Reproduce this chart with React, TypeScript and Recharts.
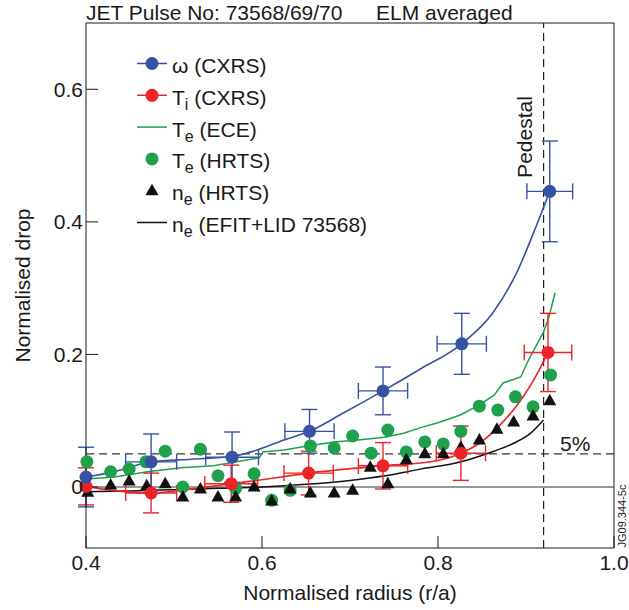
import React from "react";
import {
  ComposedChart,
  ErrorBar,
  Line,
  ReferenceLine,
  Scatter,
  XAxis,
  YAxis
} from "recharts";

const FONT = '"Liberation Sans", Arial, Helvetica, sans-serif';
const BLUE = "#3752a3";
const RED = "#ec2327";
const GREEN = "#1fa04b";
const INK = "#1a1a1a";

const xTicks = [0.4, 0.6, 0.8, 1.0];
const yTicks = [0, 0.2, 0.4, 0.6];

// omega (CXRS) points with error bars
const omegaR = [0.4, 0.474, 0.566, 0.654, 0.7375, 0.827, 0.927];
const omegaDrop = [0.015, 0.038, 0.045, 0.084, 0.145, 0.216, 0.446];
const omegaErrR = [0, 0.029, 0.03, 0.028, 0.028, 0.028, 0.026];
const omegaErrDrop = [0.045, 0.042, 0.038, 0.033, 0.036, 0.046, 0.076];

// omega fit curve
const omegaFitR = [0.4, 0.432, 0.474, 0.52, 0.566, 0.5875, 0.625, 0.654, 0.693, 0.7375, 0.78, 0.827, 0.862, 0.89, 0.912, 0.927];
const omegaFitDrop = [0.015, 0.023, 0.038, 0.042, 0.046, 0.053, 0.071, 0.084, 0.112, 0.145, 0.178, 0.216, 0.262, 0.325, 0.395, 0.446];

// Ti (CXRS) points with error bars
const tiR = [0.4, 0.474, 0.565, 0.653, 0.7375, 0.826, 0.925];
const tiDrop = [0.001, -0.009, 0.005, 0.021, 0.032, 0.051, 0.203];
const tiErrR = [0, 0.029, 0.03, 0.028, 0.028, 0.028, 0.027];
const tiErrDrop = [0.028, 0.03, 0.028, 0.033, 0.035, 0.041, 0.059];

// Ti fit curve
const tiFitR = [0.4, 0.443, 0.474, 0.508, 0.565, 0.6, 0.653, 0.7375, 0.792, 0.826, 0.847, 0.868, 0.894, 0.909, 0.925];
const tiFitDrop = [0.001, -0.007, -0.009, -0.005, 0.005, 0.011, 0.021, 0.032, 0.038, 0.051, 0.066, 0.09, 0.131, 0.162, 0.203];

// Te (ECE)
const eceR = [0.4, 0.432, 0.47, 0.508, 0.545, 0.584, 0.597, 0.601, 0.625, 0.652, 0.682, 0.709, 0.739, 0.761, 0.781, 0.8, 0.826, 0.847, 0.864, 0.874, 0.883, 0.894, 0.903, 0.912, 0.92, 0.926, 0.933];
const eceDrop = [0.012, 0.015, 0.023, 0.029, 0.032, 0.041, 0.044, 0.053, 0.056, 0.062, 0.068, 0.071, 0.075, 0.081, 0.09, 0.097, 0.109, 0.124, 0.139, 0.157, 0.161, 0.166, 0.192, 0.214, 0.234, 0.256, 0.293];

// Te (HRTS)
const hrtsTeR = [0.401, 0.428, 0.449, 0.468, 0.49, 0.51, 0.53, 0.55, 0.57, 0.591, 0.611, 0.632, 0.655, 0.682, 0.703, 0.724, 0.743, 0.764, 0.785, 0.806, 0.826, 0.847, 0.868, 0.888, 0.908, 0.928];
const hrtsTeDrop = [0.038, 0.023, 0.027, 0.038, 0.054, 0.0, 0.057, 0.017, -0.002, 0.02, -0.02, -0.005, 0.062, 0.059, 0.077, 0.051, 0.086, 0.053, 0.068, 0.065, 0.084, 0.122, 0.116, 0.136, 0.121, 0.169];

// ne (HRTS)
const hrtsNeR = [0.402, 0.428, 0.449, 0.469, 0.49, 0.51, 0.53, 0.55, 0.57, 0.591, 0.611, 0.632, 0.655, 0.682, 0.703, 0.723, 0.743, 0.764, 0.785, 0.806, 0.826, 0.847, 0.867, 0.886, 0.908, 0.927];
const hrtsNeDrop = [-0.008, 0.003, 0.009, 0.002, 0.005, -0.015, -0.003, -0.015, -0.015, 0.0, -0.021, -0.003, -0.009, -0.009, -0.005, 0.03, 0.005, 0.041, 0.05, 0.05, 0.06, 0.071, 0.087, 0.098, 0.107, 0.13];

// ne (EFIT+LID 73568)
const efitR = [0.4, 0.45, 0.5, 0.55, 0.6, 0.65, 0.7, 0.74, 0.78, 0.826, 0.857, 0.886, 0.905, 0.92];
const efitDrop = [-0.007, -0.006, -0.004, -0.002, 0.0, 0.004, 0.01, 0.017, 0.027, 0.038, 0.051, 0.066, 0.081, 0.101];

const pedestalR = 0.92;
const fivePercent = 0.05;

const pts = (xs: number[], ys: number[]) => xs.map((x, i) => ({ x, y: ys[i] }));
const errPts = (xs: number[], ys: number[], ex: number[], ey: number[]) =>
  xs.map((x, i) => ({ x, y: ys[i], ex: ex[i], ey: ey[i] }));

const omegaData = errPts(omegaR, omegaDrop, omegaErrR, omegaErrDrop);
const tiData = errPts(tiR, tiDrop, tiErrR, tiErrDrop);

const circle = (color: string) => (p: any) => <circle cx={p.cx} cy={p.cy} r={6.5} fill={color} />;
const triangle = (p: any) => (
  <polygon
    points={`${p.cx},${p.cy - 7} ${p.cx - 6.5},${p.cy + 4.5} ${p.cx + 6.5},${p.cy + 4.5}`}
    fill="#111"
  />
);

const legendRows = [
  { main: "ω (CXRS)", sub: "", rest: "", color: BLUE, line: true, mark: "circle" },
  { main: "T", sub: "i", rest: " (CXRS)", color: RED, line: true, mark: "circle" },
  { main: "T", sub: "e", rest: " (ECE)", color: GREEN, line: true, mark: "" },
  { main: "T", sub: "e", rest: " (HRTS)", color: GREEN, line: false, mark: "circle" },
  { main: "n", sub: "e", rest: " (HRTS)", color: "#111", line: false, mark: "triangle" },
  { main: "n", sub: "e", rest: " (EFIT+LID 73568)", color: "#111", line: true, mark: "" }
];

const tickStyle = { fill: INK, fontSize: 21, fontFamily: FONT };

export default function App() {
  return (
    <div style={{ position: "absolute", left: 0, top: 0, width: 629, height: 610, background: "#fff" }}>
      <ComposedChart width={629} height={610} margin={{ top: 23, right: 15, bottom: 6, left: 26 }}>
        <XAxis
          type="number"
          dataKey="x"
          domain={[0.4, 1.0]}
          ticks={xTicks}
          interval={0}
          tickFormatter={(v: number) => v.toFixed(1)}
          tick={tickStyle}
          tickSize={-12}
          tickMargin={19}
          height={56}
          stroke={INK}
          label={(p: any) => (
            <text
              x={p.viewBox.x + p.viewBox.width / 2}
              y={p.viewBox.y + 52}
              textAnchor="middle"
              fontSize={21}
              fontFamily={FONT}
              fill={INK}
            >
              Normalised radius (r/a)
            </text>
          )}
        />
        <YAxis
          type="number"
          dataKey="y"
          domain={[-0.092, 0.7]}
          ticks={yTicks}
          interval={0}
          tickFormatter={(v: number) => (v === 0 ? "0" : v.toFixed(1))}
          tick={tickStyle}
          tickSize={-12}
          tickMargin={15}
          width={60}
          stroke={INK}
          label={(p: any) => {
            const x = p.viewBox.x + 4;
            const y = p.viewBox.y + p.viewBox.height / 2;
            return (
              <text
                x={x}
                y={y}
                transform={`rotate(-90, ${x}, ${y})`}
                textAnchor="middle"
                fontSize={21}
                fontFamily={FONT}
                fill={INK}
              >
                Normalised drop
              </text>
            );
          }}
        />
        <ReferenceLine y={0.7} stroke={INK} strokeWidth={1} />
        <ReferenceLine x={1.0} stroke={INK} strokeWidth={1} />
        <ReferenceLine y={0} stroke="#333" strokeWidth={1} />
        <ReferenceLine
          y={fivePercent}
          stroke="#333"
          strokeWidth={1.2}
          strokeDasharray="8 5"
          label={(p: any) => (
            <text x={560} y={p.viewBox.y - 3} fontSize={21} fontFamily={FONT} fill={INK}>
              5%
            </text>
          )}
        />
        <ReferenceLine
          x={pedestalR}
          stroke="#222"
          strokeWidth={1.2}
          strokeDasharray="8 5"
          label={(p: any) => {
            const x = p.viewBox.x - 12;
            const y = 137;
            return (
              <text
                x={x}
                y={y}
                transform={`rotate(-90, ${x}, ${y})`}
                textAnchor="middle"
                fontSize={21}
                fontFamily={FONT}
                fill={INK}
              >
                Pedestal
              </text>
            );
          }}
        />
        <Line data={pts(eceR, eceDrop)} dataKey="y" type="linear" stroke={GREEN} strokeWidth={1.5} dot={false} isAnimationActive={false} />
        <Line data={pts(efitR, efitDrop)} dataKey="y" type="monotone" stroke="#111" strokeWidth={1.5} dot={false} isAnimationActive={false} />
        <Scatter data={pts(hrtsTeR, hrtsTeDrop)} dataKey="y" shape={circle(GREEN)} isAnimationActive={false} />
        <Scatter data={pts(hrtsNeR, hrtsNeDrop)} dataKey="y" shape={triangle} isAnimationActive={false} />
        <Line data={pts(tiFitR, tiFitDrop)} dataKey="y" type="monotone" stroke={RED} strokeWidth={1.6} dot={false} isAnimationActive={false} />
        <Scatter data={tiData} dataKey="y" shape={circle(RED)} isAnimationActive={false}>
          <ErrorBar dataKey="ey" direction="y" width={8} stroke={RED} strokeWidth={1.4} />
          <ErrorBar dataKey="ex" direction="x" width={8} stroke={RED} strokeWidth={1.4} />
        </Scatter>
        <Line data={pts(omegaFitR, omegaFitDrop)} dataKey="y" type="monotone" stroke={BLUE} strokeWidth={1.6} dot={false} isAnimationActive={false} />
        <Scatter data={omegaData} dataKey="y" shape={circle(BLUE)} isAnimationActive={false}>
          <ErrorBar dataKey="ey" direction="y" width={8} stroke={BLUE} strokeWidth={1.4} />
          <ErrorBar dataKey="ex" direction="x" width={8} stroke={BLUE} strokeWidth={1.4} />
        </Scatter>
      </ComposedChart>

      <svg
        width={629}
        height={610}
        style={{ position: "absolute", left: 0, top: 0, pointerEvents: "none" }}
        fontFamily={FONT}
        fill={INK}
      >
        <text x={86} y={20} fontSize={21}>JET Pulse No: 73568/69/70</text>
        <text x={376} y={20} fontSize={21}>ELM averaged</text>
        <text x={626} y={516} fontSize={11} textAnchor="middle" transform="rotate(-90, 626, 516)">
          JG09.344-5c
        </text>
        {legendRows.map((row, i) => {
          const base = 73 + i * 31.8;
          const cy = base - 9.5;
          return (
            <g key={i}>
              {row.line && <line x1={137} x2={167} y1={cy} y2={cy} stroke={row.color} strokeWidth={1.5} />}
              {row.mark === "circle" && <circle cx={152} cy={cy} r={6.5} fill={row.color} />}
              {row.mark === "triangle" && (
                <polygon points={`152,${cy - 7} 145.5,${cy + 4.5} 158.5,${cy + 4.5}`} fill="#111" />
              )}
              <text x={172} y={base} fontSize={21}>
                {row.main}
                {row.sub && (
                  <tspan fontSize={16} dy={5}>
                    {row.sub}
                  </tspan>
                )}
                {row.sub && <tspan dy={-5}>{row.rest}</tspan>}
              </text>
            </g>
          );
        })}
      </svg>
    </div>
  );
}
